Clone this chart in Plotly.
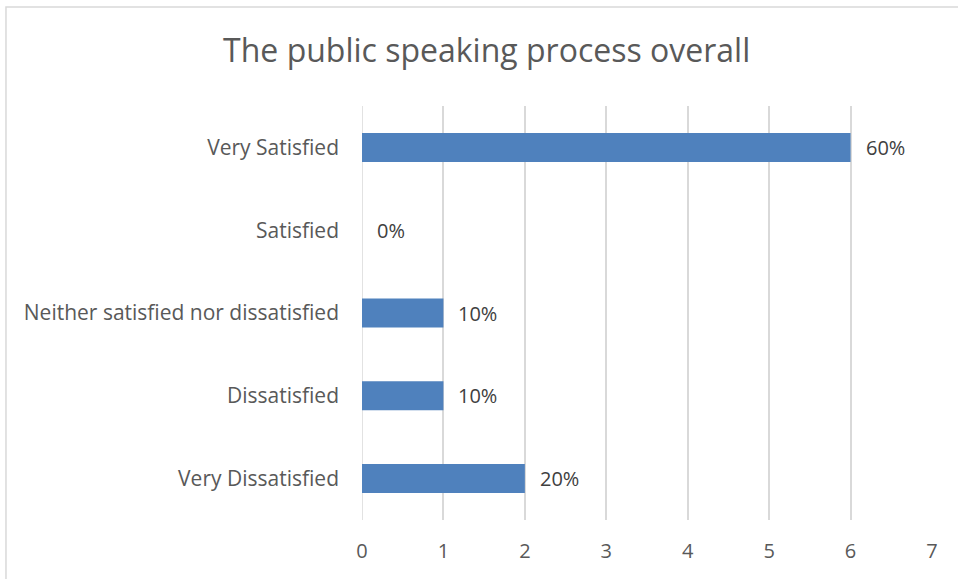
import plotly.graph_objects as go

categories = ["Very Dissatisfied", "Dissatisfied", "Neither satisfied nor dissatisfied", "Satisfied", "Very Satisfied"]
values = [2, 1, 1, 0, 6]
labels = ["20%", "10%", "10%", "0%", "60%"]
x_ticks = [0, 1, 2, 3, 4, 5, 6, 7]

FONT = "Open Sans"
GRAY = "#595959"

fig = go.Figure()
fig.add_trace(go.Bar(
    y=categories, x=values, orientation="h",
    marker=dict(color="#4f81bd", line=dict(width=0)),
    width=0.35, hoverinfo="skip",
))

for c, v, t in zip(categories, values, labels):
    fig.add_annotation(x=v, y=c, text=t, showarrow=False, xanchor="left",
                       xshift=13, font=dict(family=FONT, size=20, color="#404040"))

fig.add_shape(type="rect", xref="paper", yref="paper",
              x0=-0.6246, x1=2, y0=-1, y1=1.239,
              line=dict(color="#d9d9d9", width=1.5), layer="below")

fig.update_layout(
    width=958, height=579,
    margin=dict(l=362, r=26, t=106, b=59),
    paper_bgcolor="white", plot_bgcolor="white",
    showlegend=False,
    title=dict(text="The public speaking process overall", x=0.508, xanchor="center",
               y=0.913, yanchor="middle",
               font=dict(family=FONT, size=32, color=GRAY)),
    font=dict(family=FONT, color=GRAY),
    xaxis=dict(range=[0, 7], tickvals=x_ticks, showgrid=True, gridcolor="#d9d9d9",
               gridwidth=1.5, zeroline=False, showline=False,
               tickfont=dict(family=FONT, size=20, color=GRAY), ticks="",
               ticklabelstandoff=17),
    yaxis=dict(categoryorder="array", categoryarray=categories, showgrid=False,
               zeroline=False, showline=False, ticks="",
               tickfont=dict(family=FONT, size=21, color=GRAY),
               ticklabelstandoff=22),
    bargap=0.65,
)
fig.add_vline(x=0, line=dict(color="#d9d9d9", width=1.5), layer="below")

fig.write_html("out.html")
